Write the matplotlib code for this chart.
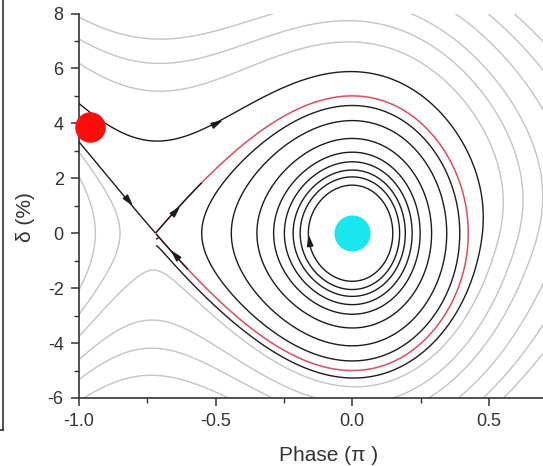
import numpy as np
import matplotlib
matplotlib.use("Agg")
import matplotlib.pyplot as plt
from matplotlib.lines import Line2D
from matplotlib.markers import MarkerStyle
from matplotlib.path import Path
from matplotlib.ticker import AutoMinorLocator
from matplotlib.transforms import Affine2D

plt.rcParams['font.family'] = ['Liberation Sans', 'DejaVu Sans']
plt.rcParams['axes.unicode_minus'] = False

# --- values ---
phase_s = 0.14        # stable point sits at 0, X-point at -(1 - 2*phase_s)  (units of pi)
delta_sep = 5.0       # bucket half height at phase 0 (%)
damping = 0.14        # drop of log(energy) per radian, grey flow outside the bucket
damping_outer = 0.07  # same for the black line that starts at the red dot
angle_scale = 3.6     # phase -> delta scaling for the winding angle

grey_right = [0.54, 0.61, 0.68, 0.77, 0.87, 0.98]   # grey lines: phase where they cross delta = 0
grey_left = [-0.94, -0.85]                           # grey lines turning left of the X-point
ring_top = [1.75, 2.05, 2.3, 2.6, 2.95, 3.45, 4.1, 4.65]   # spiral turns, delta at phase 0

red_dot_x, red_dot_y = [-0.96], [3.87]
cyan_dot_x, cyan_dot_y = [0.0], [0.0]

arrow_x = [-0.50, -0.82, -0.65, -0.65, -0.145]
arrow_y = [4.02, 1.20, 0.82, -0.80, -0.25]
arrow_dir = [10, -50, 43, 135, 95]    # rough heading on screen (deg)

xticks = [-1.0, -0.5, 0.0, 0.5]
yticks = [-6, -4, -2, 0, 2, 4, 6, 8]

# --- longitudinal hamiltonian ---
phi_s = np.pi * phase_s
x_sep = -(1 - 2 * phase_s)


def f(phi):
    return np.cos(phi) + phi * np.sin(phi_s)


K = 0.5 * delta_sep ** 2 / (f(phi_s) - f(np.pi - phi_s))
H_sep = 0.5 * delta_sep ** 2


def V(x):
    return K * (f(phi_s) - f(phi_s - np.pi * np.asarray(x)))


xg = np.linspace(-1.05, 0.9, 900)
dg = np.linspace(-6.5, 8.5, 900)
X, D = np.meshgrid(xg, dg)
H = 0.5 * D ** 2 + V(X)
theta = np.pi - np.arctan2(D, angle_scale * X)
logH = np.log(np.maximum(H, 1e-9))
outside = H < H_sep
G_grey = np.ma.masked_where(outside, logH + damping * theta)
G_black = np.ma.masked_where(outside | ((X < x_sep) & (D < 0)), logH + damping_outer * theta)

fig = plt.figure(figsize=(5.43, 4.66), dpi=100)
ax = fig.add_axes([79 / 543, 68 / 466, 500 / 543, 384.5 / 466])
ax.set_xlim(-1.0, 0.83)
ax.set_ylim(-6, 8)

grey = '#c4c4c4'
black = '#1c1c1c'

# grey flow lines
grey_levels = np.sort(np.log(V(grey_right)) + damping * np.pi)
ax.contour(X, D, G_grey, levels=grey_levels, colors=grey, linewidths=1.0, zorder=1)
H_left = np.ma.masked_where(X > x_sep, H)
ax.contour(X, D, H_left, levels=np.sort(V(grey_left)), colors=grey, linewidths=1.0, zorder=1)

# separatrix of the bucket (red)
H_bucket = np.ma.masked_where(X < x_sep, H)
ax.contour(X, D, H_bucket, levels=[H_sep], colors='#dc4c64', linewidths=1.1, zorder=2)

# black line from the red dot: round the bucket and back into the X-point
cs_outer = ax.contour(X, D, G_black, levels=[np.log(H_sep) + damping_outer * 2 * np.pi - 0.004],
                      colors=black, linewidths=1.0, zorder=3)
# separatrix branches at the X-point
sep_mask = ((D > 0) & (X < -0.55)) | ((D < 0) & (X > x_sep) & (X < -0.6))
cs_sep = ax.contour(X, D, np.ma.masked_where(~sep_mask, H), levels=[H_sep],
                    colors=black, linewidths=1.0, zorder=3)
# spiral towards the stable point
H_in = np.ma.masked_where(X < x_sep, H)
cs_rings = ax.contour(X, D, H_in, levels=0.5 * np.array(ring_top) ** 2,
                      colors=black, linewidths=1.0, zorder=3)


def pieces(cs):
    out = []
    for p in cs.get_paths():
        v = p.vertices
        if len(v) == 0:
            continue
        codes = p.codes if p.codes is not None else np.full(len(v), Path.LINETO)
        starts = list(np.nonzero(codes == Path.MOVETO)[0]) + [len(v)]
        if starts[0] != 0:
            starts = [0] + starts
        for a, b in zip(starts[:-1], starts[1:]):
            if b - a > 3:
                out.append(ax.transData.transform(v[a:b]))
    return out


# arrow heads sitting on the black lines
segs = pieces(cs_outer) + pieces(cs_sep) + pieces(cs_rings)
head = Path([(1, 0), (-1, 0.55), (-1, -0.55), (1, 0)],
            [Path.MOVETO, Path.LINETO, Path.LINETO, Path.CLOSEPOLY])
for px, py, pd in zip(arrow_x, arrow_y, arrow_dir):
    target = ax.transData.transform((px, py))
    best = None
    for s in segs:
        d = np.hypot(s[:, 0] - target[0], s[:, 1] - target[1])
        i = int(np.argmin(d))
        if best is None or d[i] < best[0]:
            best = (d[i], s, i)
    _, s, i = best
    a, b = s[max(i - 2, 0)], s[min(i + 2, len(s) - 1)]
    ang = np.degrees(np.arctan2(b[1] - a[1], b[0] - a[0]))
    if np.cos(np.radians(ang - pd)) < 0:
        ang += 180
    pos = ax.transData.inverted().transform(s[i])
    ax.plot(pos[0], pos[1], ls='none', marker=MarkerStyle(head, transform=Affine2D().rotate_deg(ang)),
            ms=7, color=black, zorder=4)

ax.plot(red_dot_x, red_dot_y, 'o', ms=22, color='#ff0d0d', mew=0, clip_on=False, zorder=6)
ax.plot(cyan_dot_x, cyan_dot_y, 'o', ms=26, color='#19e6ee', mew=0, zorder=6)

# axes styling
ax.set_xticks(xticks)
ax.set_xticklabels([f'{t:.1f}' for t in xticks])
ax.set_yticks(yticks)
ax.xaxis.set_minor_locator(AutoMinorLocator(2))
ax.yaxis.set_minor_locator(AutoMinorLocator(2))
ax.tick_params(which='major', direction='out', length=6, width=1.1, color='#333333',
               labelsize=13, labelcolor='#333333', pad=5)
ax.tick_params(which='minor', direction='out', length=3.5, width=1.0, color='#333333')
for s in ('top', 'right'):
    ax.spines[s].set_visible(False)
for s in ('left', 'bottom'):
    ax.spines[s].set_linewidth(1.2)
    ax.spines[s].set_color('#333333')

ax.set_xlabel('Phase (π )', fontsize=15, color='#333333')
ax.xaxis.set_label_coords(0.5, -0.125)
ax.set_ylabel('δ (%)', fontsize=15, color='#333333')
ax.yaxis.set_label_coords(-0.088, 0.47)

# edge of the neighbouring panel
fig.add_artist(Line2D([3 / 543, 3 / 543], [1, 1 - 430 / 466], transform=fig.transFigure,
                      color='#333333', lw=1.2))
fig.add_artist(Line2D([0, 3 / 543], [1 - 430 / 466] * 2, transform=fig.transFigure,
                      color='#333333', lw=1.2))

fig.savefig('out.png', dpi=100)
